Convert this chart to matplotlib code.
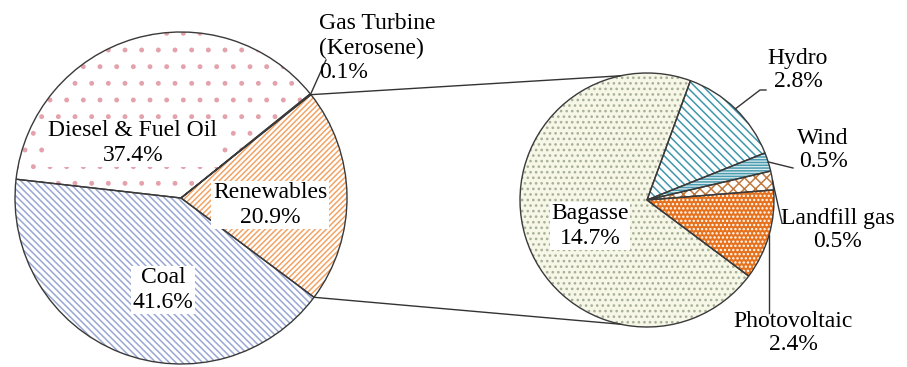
import numpy as np
import matplotlib.pyplot as plt

plt.rcParams['font.family'] = ['Liberation Serif', 'DejaVu Serif']
plt.rcParams['hatch.linewidth'] = 1.1

# electricity generation shares (%)
main_labels = ['Coal', 'Renewables', 'Gas Turbine\n(Kerosene)', 'Diesel & Fuel Oil']
main_values = [41.6, 20.9, 0.1, 37.4]
ren_labels = ['Hydro', 'Wind', 'Landfill gas', 'Photovoltaic', 'Bagasse']
ren_values = [2.8, 0.5, 0.5, 2.4, 14.7]

W, H = 907, 367
fig = plt.figure(figsize=(W / 100, H / 100), dpi=100)
ax = fig.add_axes([0, 0, 1, 1])

c1, r1 = (181, H - 198), 166
c2, r2 = (647, H - 200), 127

main_face = ['white', 'white', 'white', 'white']
main_hatch_col = ['#9aa8d4', '#f2a466', '#999999', '#e4a2ac']
main_hatch = ['\\\\\\\\\\', '//////', '', '.']
ren_face = ['white', '#dcecf0', 'white', '#e6721e', '#f7f7e8']
ren_hatch_col = ['#3f97ad', '#4a9cb0', '#c07a40', 'white', '#a8b098']
ren_hatch = ['\\\\\\\\', '------', 'xxx', '....', '...']

# left pie: fill + hatch, then outline on top
w1, _ = ax.pie(main_values, center=c1, radius=r1, startangle=173.5,
               counterclock=True, wedgeprops=dict(linewidth=0))
for w, fc, hc, h in zip(w1, main_face, main_hatch_col, main_hatch):
    w.set_facecolor(fc)
    w.set_edgecolor(hc)
    w.set_hatch(h)
ax.pie(main_values, center=c1, radius=r1, startangle=173.5, counterclock=True,
       wedgeprops=dict(facecolor='none', edgecolor='#3a3a3a', linewidth=1.0))

# right pie: breakdown of renewables
w2, _ = ax.pie(ren_values, center=c2, radius=r2, startangle=70,
               counterclock=False, wedgeprops=dict(linewidth=0))
for w, fc, hc, h in zip(w2, ren_face, ren_hatch_col, ren_hatch):
    w.set_facecolor(fc)
    w.set_edgecolor(hc)
    w.set_hatch(h)
ax.pie(ren_values, center=c2, radius=r2, startangle=70, counterclock=False,
       wedgeprops=dict(facecolor='none', edgecolor='#3a3a3a', linewidth=1.0))

ax.set_xlim(0, W)
ax.set_ylim(0, H)
ax.set_aspect('auto')
ax.axis('off')


def edge_pt(c, r, ang):
    a = np.deg2rad(ang)
    return c[0] + r * np.cos(a), c[1] + r * np.sin(a)


# lines joining the renewables wedge to the second pie
ren = w1[1]
p_top = edge_pt(c1, r1, ren.theta2)
p_bot = edge_pt(c1, r1, ren.theta1)
q_top = edge_pt(c2, r2, 102)
q_bot = edge_pt(c2, r2, -102)
ax.plot([p_top[0], q_top[0]], [p_top[1], q_top[1]], color='#333333', lw=1)
ax.plot([p_bot[0], q_bot[0]], [p_bot[1], q_bot[1]], color='#333333', lw=1)

fs = 17
box = dict(facecolor='white', edgecolor='none', pad=1)


def lab(i, labels, values):
    return f'{labels[i]}\n{values[i]}%'


ax.text(133, H - 143, lab(3, main_labels, main_values), ha='center', va='center',
        fontsize=fs, bbox=box)
ax.text(270, H - 205, lab(1, main_labels, main_values), ha='center', va='center',
        fontsize=fs, bbox=box)
ax.text(163, H - 290, lab(0, main_labels, main_values), ha='center', va='center',
        fontsize=fs, bbox=box)
ax.text(319, H - 48, lab(2, main_labels, main_values), ha='left', va='center',
        fontsize=fs, linespacing=1.2)
gas = w1[2]
gp = edge_pt(c1, r1, (gas.theta1 + gas.theta2) / 2)
ax.plot([gp[0], 326], [gp[1], H - 60], color='#333333', lw=1)

ax.text(590, H - 226, lab(4, ren_labels, ren_values), ha='center', va='center',
        fontsize=fs, bbox=box)
ax.text(798, H - 70, lab(0, ren_labels, ren_values), ha='center', va='center',
        fontsize=fs, linespacing=1.1)
ax.text(823, H - 150, lab(1, ren_labels, ren_values), ha='center', va='center',
        fontsize=fs, linespacing=1.1)
ax.text(838, H - 230, lab(2, ren_labels, ren_values), ha='center', va='center',
        fontsize=fs, linespacing=1.1)
ax.text(793, H - 333, lab(3, ren_labels, ren_values), ha='center', va='center',
        fontsize=fs, linespacing=1.1)

# leader lines for the small slices
mids = [(w.theta1 + w.theta2) / 2 for w in w2]
hp = edge_pt(c2, r2, mids[0])
ax.plot([hp[0], 760, 766], [hp[1], H - 90, H - 90], color='#333333', lw=1)
wp = edge_pt(c2, r2, mids[1])
ax.plot([wp[0], 793], [wp[1], H - 168], color='#333333', lw=1)
lp = edge_pt(c2, r2, mids[2])
ax.plot([lp[0], 782], [lp[1], H - 223], color='#333333', lw=1)
pp = edge_pt(c2, r2, mids[3])
ax.plot([pp[0], pp[0]], [pp[1], H - 313], color='#333333', lw=1)

fig.savefig('out.png', dpi=100)
